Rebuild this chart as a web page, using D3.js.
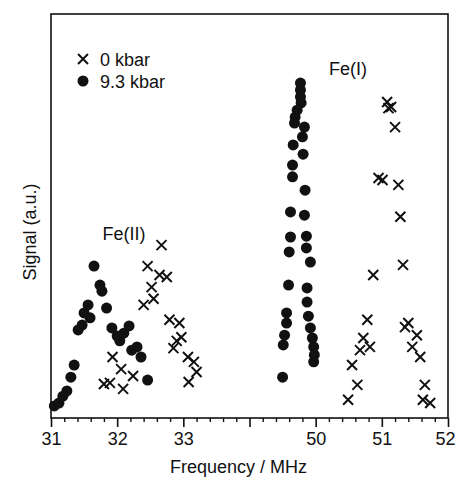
<!DOCTYPE html>
<html>
<head>
<meta charset="utf-8">
<script src="https://cdn.jsdelivr.net/npm/d3@7"></script>
<style>
  body { margin: 0; background: #fff; }
  svg { display: block; font-family: "Liberation Sans", Arial, sans-serif; }
</style>
</head>
<body>
<div id="chart"></div>
<script>
// 9.3 kbar (filled dots): [frequency MHz, signal a.u.]
const dots93 = [
    [31.05, 3.0], [31.12, 3.7], [31.18, 5.4], [31.24, 6.7], [31.30, 10.1], [31.35, 13.1],
    [31.41, 21.8], [31.47, 23.0], [31.50, 26.0], [31.56, 28.0], [31.59, 24.8], [31.65, 37.6],
    [31.74, 32.9], [31.77, 31.4], [31.84, 27.2], [31.92, 22.3], [32.00, 20.3], [32.04, 19.1],
    [32.10, 21.0], [32.18, 22.8], [32.22, 16.8], [32.30, 17.6], [32.36, 15.1], [32.46, 9.4],
    [49.77, 82.9], [49.77, 81.2], [49.77, 79.5], [49.78, 78.0], [49.72, 76.2], [49.69, 74.5],
    [49.68, 73.0], [49.83, 72.0], [49.80, 69.6], [49.66, 67.6], [49.81, 65.3], [49.65, 62.6],
    [49.65, 59.7], [49.84, 56.4], [49.62, 51.0], [49.83, 50.2], [49.62, 44.8], [49.86, 45.0],
    [49.60, 41.1], [49.86, 42.1], [49.92, 38.6], [49.59, 32.9], [49.87, 32.2], [49.87, 28.7],
    [49.56, 26.0], [49.56, 23.5], [49.89, 25.2], [49.92, 22.3], [49.53, 20.5], [49.51, 18.1],
    [49.95, 19.8], [49.97, 17.6], [49.98, 15.6], [49.97, 13.9], [49.50, 10.1]
];

// 0 kbar (crosses)
const crosses0 = [
    [31.80, 8.4], [31.89, 8.7], [31.93, 15.1], [32.06, 12.1], [32.09, 7.2], [32.24, 10.4],
    [32.40, 28.0], [32.46, 37.6], [32.52, 32.4], [32.55, 29.5], [32.64, 35.4], [32.67, 42.8],
    [32.75, 34.9], [32.79, 24.3], [32.85, 17.3], [32.90, 19.1], [32.94, 23.5], [32.97, 20.0],
    [33.07, 15.1], [33.16, 13.9], [33.20, 11.4], [33.08, 8.9],
    [51.08, 78.2], [51.14, 77.0], [51.10, 76.7], [51.20, 72.0], [50.95, 59.4], [51.01, 58.9],
    [51.25, 57.7], [51.28, 49.8], [51.32, 37.9], [50.87, 35.4], [50.78, 24.3], [51.40, 23.5],
    [51.35, 22.5], [51.53, 20.5], [50.72, 19.8], [50.82, 17.6], [50.67, 16.8], [51.46, 17.6],
    [51.58, 15.1], [50.55, 13.1], [50.63, 8.2], [51.65, 8.2], [50.49, 4.5], [51.62, 4.5],
    [51.73, 3.7]
];

// broken frequency axis: 31..34 joined to 49..52
const xDomain = [31, 34, 49, 52];
const majorTicks = [31, 32, 33, 34, 50, 51, 52];
const tickLabels = ["31", "32", "33", "", "50", "51", "52"];
const minorTicks = [31.2, 31.4, 31.6, 31.8, 32.2, 32.4, 32.6, 32.8, 33.2, 33.4, 33.6, 33.8,
    49.2, 49.4, 49.6, 49.8, 50.2, 50.4, 50.6, 50.8, 51.2, 51.4, 51.6, 51.8];

const legendItems = ["0 kbar", "9.3 kbar"];
const peakLabels = [["Fe(II)", 31.78, 44], ["Fe(I)", 50.2, 85]];

document.addEventListener('DOMContentLoaded', () => {
    try {
        const width = 457;
        const height = 478;
        const left = 51, right = 448, top = 14, bottom = 418;
        const black = "#111";

        const svg = d3.select("#chart")
            .append("svg")
            .attr("width", width)
            .attr("height", height);

        svg.append("rect")
            .attr("width", width)
            .attr("height", height)
            .attr("fill", "#fff");

        const mid = left + (right - left) / 2;
        const x = d3.scaleLinear()
            .domain(xDomain)
            .range([left, mid, mid, right]);

        const y = d3.scaleLinear()
            .domain([0, 100])
            .range([bottom, top]);

        // frame
        svg.append("rect")
            .attr("x", left)
            .attr("y", top)
            .attr("width", right - left)
            .attr("height", bottom - top)
            .attr("fill", "none")
            .attr("stroke", black)
            .attr("stroke-width", 1.6);

        // bottom axis, major + minor ticks
        const majorAxis = d3.axisBottom(x)
            .tickValues(majorTicks)
            .tickFormat((d, i) => tickLabels[i])
            .tickSize(9)
            .tickPadding(5);

        const gx = svg.append("g")
            .attr("transform", `translate(0,${bottom})`)
            .call(majorAxis);
        gx.select(".domain").remove();
        gx.selectAll("line").attr("stroke", black).attr("stroke-width", 1.6);
        gx.selectAll("text")
            .attr("fill", black)
            .attr("font-size", 18)
            .attr("font-family", "Liberation Sans, Arial, sans-serif")
            .attr("dx", d => d === 52 ? -3 : 0);

        const minorAxis = d3.axisBottom(x)
            .tickValues(minorTicks)
            .tickFormat("")
            .tickSize(4);

        const gm = svg.append("g")
            .attr("transform", `translate(0,${bottom})`)
            .call(minorAxis);
        gm.select(".domain").remove();
        gm.selectAll("line").attr("stroke", black).attr("stroke-width", 1.4);

        // axis titles
        svg.append("text")
            .attr("x", (left + right) / 2 - 11)
            .attr("y", 473)
            .attr("text-anchor", "middle")
            .attr("font-size", 18)
            .attr("fill", black)
            .text("Frequency / MHz");

        svg.append("text")
            .attr("transform", `translate(36,232) rotate(-90)`)
            .attr("text-anchor", "middle")
            .attr("font-size", 18)
            .attr("fill", black)
            .text("Signal (a.u.)");

        // data marks
        svg.append("g")
            .selectAll("circle")
            .data(dots93)
            .enter()
            .append("circle")
            .attr("cx", d => x(d[0]))
            .attr("cy", d => y(d[1]))
            .attr("r", 5.5)
            .attr("fill", black);

        const cs = 5;
        const cross = (px, py) => `M${px - cs},${py - cs}L${px + cs},${py + cs}M${px - cs},${py + cs}L${px + cs},${py - cs}`;

        svg.append("g")
            .selectAll("path")
            .data(crosses0)
            .enter()
            .append("path")
            .attr("d", d => cross(x(d[0]), y(d[1])))
            .attr("stroke", black)
            .attr("stroke-width", 2)
            .attr("fill", "none");

        // legend
        const legend = svg.append("g");
        legend.append("path")
            .attr("d", cross(83, 59))
            .attr("stroke", black)
            .attr("stroke-width", 2);
        legend.append("circle")
            .attr("cx", 83)
            .attr("cy", 81)
            .attr("r", 5.5)
            .attr("fill", black);
        legend.selectAll("text")
            .data(legendItems)
            .enter()
            .append("text")
            .attr("x", 100)
            .attr("y", (d, i) => 66 + i * 21.5)
            .attr("font-size", 18)
            .attr("fill", black)
            .text(d => d);

        // peak labels
        svg.append("g")
            .selectAll("text")
            .data(peakLabels)
            .enter()
            .append("text")
            .attr("x", d => x(d[1]))
            .attr("y", d => y(d[2]))
            .attr("font-size", 18)
            .attr("fill", black)
            .text(d => d[0]);

    } catch (error) {
        console.error("An error occurred:", error);
    }
});
</script>
</body>
</html>
